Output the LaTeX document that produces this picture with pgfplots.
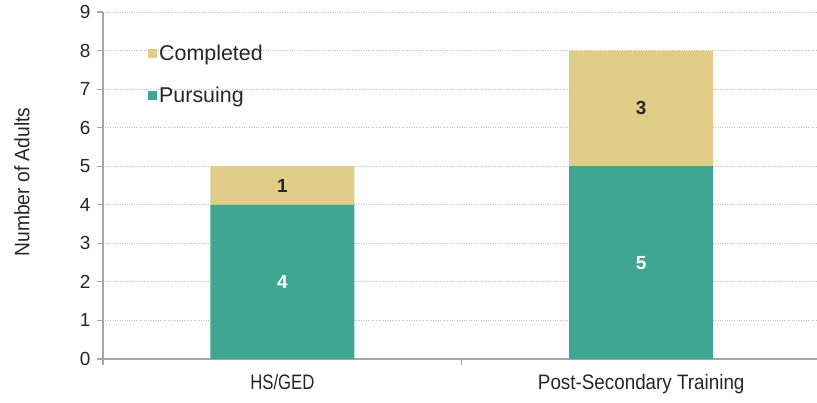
\documentclass[border=0pt]{standalone}
\usepackage{pgfplots}
\pgfplotsset{compat=1.18}
\usepackage{fontspec}
\setmainfont{Liberation Sans}
\definecolor{teal1}{HTML}{3FA692}
\definecolor{tan1}{HTML}{E0CD88}
\definecolor{txt}{HTML}{262626}
\definecolor{axg}{HTML}{A6A6A6}
\definecolor{grd}{HTML}{BFBFBF}
\begin{document}
\begin{tikzpicture}[x=1bp,y=1bp]
\useasboundingbox (0,0) rectangle (817,402);
\begin{axis}[
  at={(103bp,43bp)}, anchor=south west,
  scale only axis, width=714bp, height=347bp,
  ybar stacked, bar width=144bp,
  xmin=-0.5, xmax=1.49, ymin=0, ymax=9,
  xtick={0,1}, xticklabels={\scalebox{0.8}[1]{HS/GED},\scalebox{0.9}[1]{Post-Secondary Training}},
  minor xtick={-0.5,0.5},
  ytick={0,...,9},
  axis lines*=left,
  axis line style={axg, line width=1.5bp},
  every tick/.style={axg, line width=1.2bp},
  major x tick style={draw=none},
  minor tick length=6bp, major tick length=6bp,
  tick align=outside,
  ymajorgrids, major grid style={grd, dotted, line width=0.9bp},
  /pgf/number format/assume math mode=true,
  yticklabel style={font=\fontsize{19}{21}\selectfont, text=txt, xshift=-3bp},
  xticklabel style={font=\fontsize{21}{23}\selectfont, text=txt, yshift=-6bp},
  ylabel={\scalebox{0.92}[1]{Number of Adults}},
  ylabel style={font=\fontsize{21}{23}\selectfont, text=txt, at={(-81bp,177bp)}, anchor=center},
  legend style={at={(42bp,318bp)}, anchor=north west, draw=none, fill=none,
    font=\fontsize{21.5}{24}\selectfont, text=txt, row sep=21bp,
    /tikz/every even column/.append style={column sep=0bp}},
  legend cell align=left,
  legend image code/.code={\fill[#1] (0bp,-4.5bp) rectangle (9bp,4.5bp);},
  reverse legend,
  visualization depends on=rawy\as\rawy,
  nodes near coords={\pgfmathprintnumber{\rawy}},
  every node near coord/.append style={anchor=center, font=\fontsize{19}{21}\selectfont\bfseries},
  clip=false,
]
\addplot[fill=teal1, draw=none, every node near coord/.append style={text=white}] coordinates {(0,4) (1,5)};
\addlegendentry{Pursuing}
\addplot[fill=tan1, draw=none, every node near coord/.append style={text=txt}] coordinates {(0,1) (1,3)};
\addlegendentry{Completed}
\end{axis}
\end{tikzpicture}
\end{document}
